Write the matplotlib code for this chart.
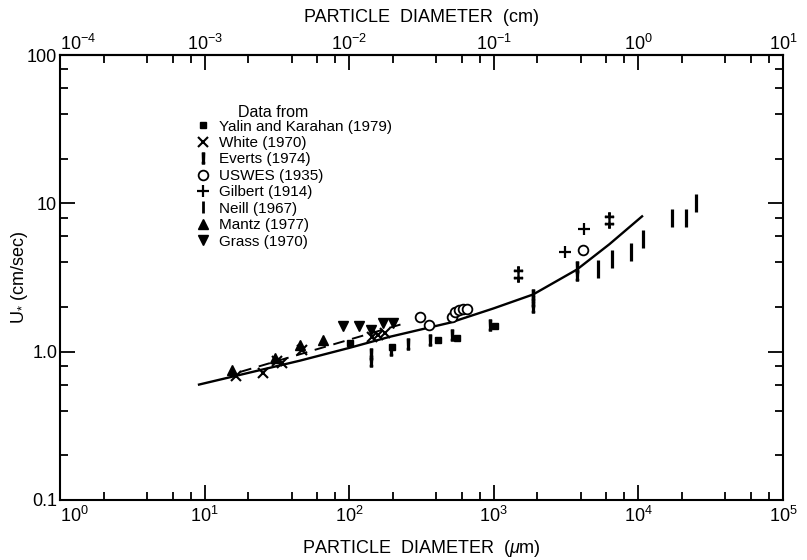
import matplotlib
matplotlib.use('Agg')
import matplotlib.pyplot as plt
from matplotlib.ticker import LogLocator, FixedLocator, FixedFormatter, NullFormatter
from matplotlib.lines import Line2D

plt.rcParams['font.family'] = ['Liberation Sans', 'DejaVu Sans']
plt.rcParams['mathtext.fontset'] = 'custom'
plt.rcParams['mathtext.rm'] = 'Liberation Sans'
plt.rcParams['mathtext.it'] = 'Liberation Sans:italic'
plt.rcParams['mathtext.bf'] = 'Liberation Sans:bold'

# threshold curve (solid) and dashed fit
curve_d = [9.15, 45.7, 100, 191, 500, 1000, 1870, 3760, 6300, 10600]
curve_u = [0.60, 0.87, 1.06, 1.26, 1.57, 1.96, 2.43, 3.58, 5.3, 8.17]
dash_d = [17.6, 251]
dash_u = [0.73, 1.57]

# data sets (diameter in micrometres, U* in cm/sec)
yalin_d = [101, 198, 411, 557, 1019]
yalin_u = [1.15, 1.08, 1.20, 1.24, 1.48]

white_d = [16.5, 25.3, 31.7, 34.3, 47.2, 144, 158, 177]
white_u = [0.69, 0.72, 0.86, 0.84, 1.03, 1.26, 1.30, 1.34]

everts_d = [141, 141, 195, 255, 362, 514, 942, 1870, 1870, 1870, 3760, 3760]
everts_u = [0.97, 0.86, 1.02, 1.13, 1.20, 1.30, 1.52, 2.0, 2.2, 2.4, 3.3, 3.7]

uswes_d = [309, 356, 514, 537, 571, 613, 653, 4140]
uswes_u = [1.70, 1.52, 1.72, 1.86, 1.92, 1.95, 1.95, 4.81]

gilbert_d = [3106, 4205]
gilbert_u = [4.67, 6.67]
gilbert_rng_d = [1470, 6260]
gilbert_rng_u = [3.34, 7.68]

neill_d = [5260, 6560, 8890, 10770, 17060, 21330, 25020]
neill_u = [3.61, 4.19, 4.70, 5.71, 7.98, 7.98, 10.0]

mantz_d = [15.5, 30.7, 45.7, 65.9]
mantz_u = [0.755, 0.91, 1.11, 1.20]

grass_d = [90.6, 117, 141, 171, 201]
grass_u = [1.50, 1.48, 1.41, 1.57, 1.55]

x_ticks = [1e0, 1e1, 1e2, 1e3, 1e4, 1e5]
x_labels = ['$10^{0}$', '$10^{1}$', '$10^{2}$', '$10^{3}$', '$10^{4}$', '$10^{5}$']
top_ticks = [1e-4, 1e-3, 1e-2, 1e-1, 1e0, 1e1]
top_labels = ['$10^{-4}$', '$10^{-3}$', '$10^{-2}$', '$10^{-1}$', '$10^{0}$', '$10^{1}$']
y_ticks = [0.1, 1, 10, 100]
y_labels = ['0.1', '1.0', '10', '100']

names = ['Yalin and Karahan (1979)', 'White (1970)', 'Everts (1974)', 'USWES (1935)',
         'Gilbert (1914)', 'Neill (1967)', 'Mantz (1977)', 'Grass (1970)']

# marker styles per data set
st_yalin = dict(marker='s', color='black', ms=5, ls='none')
st_white = dict(marker='x', color='black', ms=7, mew=1.5, ls='none')
st_everts = dict(marker=r'$\mathbf{!}$', color='black', ms=8, ls='none')
st_uswes = dict(marker='o', mfc='white', mec='black', ms=7, mew=1.3, ls='none')
st_gilbert = dict(marker='+', color='black', ms=8, mew=1.6, ls='none')
st_neill = dict(marker='|', color='black', ms=13, mew=2.3, ls='none')
st_mantz = dict(marker='^', color='black', ms=6.5, ls='none')
st_grass = dict(marker='v', color='black', ms=7, ls='none')

fig = plt.figure(figsize=(8.07, 5.6), dpi=100)
ax = fig.add_axes([60/807, 60/560, 723/807, 445/560])
ax.set_xscale('log')
ax.set_yscale('log')
ax.set_xlim(1, 1e5)
ax.set_ylim(0.1, 100)

ax.plot(curve_d, curve_u, color='black', lw=1.7)
ax.plot(dash_d, dash_u, color='black', lw=1.4, ls=(0, (6, 4)))

ax.plot(yalin_d, yalin_u, **st_yalin)
ax.plot(white_d, white_u, **st_white)
ax.plot(everts_d, everts_u, **st_everts)
ax.plot(uswes_d, uswes_u, **st_uswes)
ax.plot(gilbert_d, gilbert_u, **st_gilbert)
ax.plot(gilbert_rng_d, gilbert_rng_u, marker=r'$\ddag$', color='black', ms=11, ls='none')
ax.plot(neill_d, neill_u, **st_neill)
ax.plot(mantz_d, mantz_u, **st_mantz)
ax.plot(grass_d, grass_u, **st_grass)

# ticks
ax.xaxis.set_major_locator(FixedLocator(x_ticks))
ax.xaxis.set_major_formatter(FixedFormatter(x_labels))
ax.xaxis.set_minor_locator(LogLocator(base=10, subs=(2, 4, 6, 8)))
ax.xaxis.set_minor_formatter(NullFormatter())
ax.yaxis.set_major_locator(FixedLocator(y_ticks))
ax.yaxis.set_major_formatter(FixedFormatter(y_labels))
ax.yaxis.set_minor_locator(LogLocator(base=10, subs=(2, 4, 6, 8)))
ax.yaxis.set_minor_formatter(NullFormatter())
ax.tick_params(which='both', direction='in', right=True, width=1.3, labelsize=13)
ax.tick_params(which='major', length=11)
ax.tick_params(which='minor', length=6)
ax.tick_params(axis='x', pad=4)
ax.tick_params(axis='y', pad=2)
for s in ax.spines.values():
    s.set_linewidth(1.5)

top = ax.secondary_xaxis('top', functions=(lambda d: d / 1e4, lambda c: c * 1e4))
top.xaxis.set_major_locator(FixedLocator(top_ticks))
top.xaxis.set_major_formatter(FixedFormatter(top_labels))
top.xaxis.set_minor_locator(LogLocator(base=10, subs=(2, 4, 6, 8)))
top.xaxis.set_minor_formatter(NullFormatter())
top.tick_params(which='both', direction='in', width=1.3, labelsize=13, pad=1)
top.tick_params(which='major', length=11)
top.tick_params(which='minor', length=6)
top.spines['top'].set_linewidth(1.5)

fig.canvas.draw()
ax.get_xticklabels()[0].set_horizontalalignment('left')
top.get_xticklabels()[0].set_horizontalalignment('left')

ax.set_xlabel('PARTICLE  DIAMETER  ($\\mu$m)', fontsize=13, labelpad=9)
top.set_xlabel('PARTICLE  DIAMETER  (cm)', fontsize=13, labelpad=8)
ax.set_ylabel('U$_{*}$ (cm/sec)', fontsize=13)
ax.yaxis.set_label_coords(-0.042, 0.5)

# legend
ax.text(0.295, 0.870, 'Data from', transform=ax.transAxes, ha='center', va='center',
        fontsize=11.5)
handles = [Line2D([], [], **st) for st in
           (st_yalin, st_white, st_everts, st_uswes, st_gilbert,
            dict(st_neill, ms=9, mew=2), st_mantz, st_grass)]
leg = ax.legend(handles, names, loc='upper left', bbox_to_anchor=(0.19, 0.855),
                frameon=False, fontsize=11, handlelength=0.8, handletextpad=0.6,
                labelspacing=0.16, borderpad=0.0, borderaxespad=0.0)

fig.savefig('out.png', dpi=100)
